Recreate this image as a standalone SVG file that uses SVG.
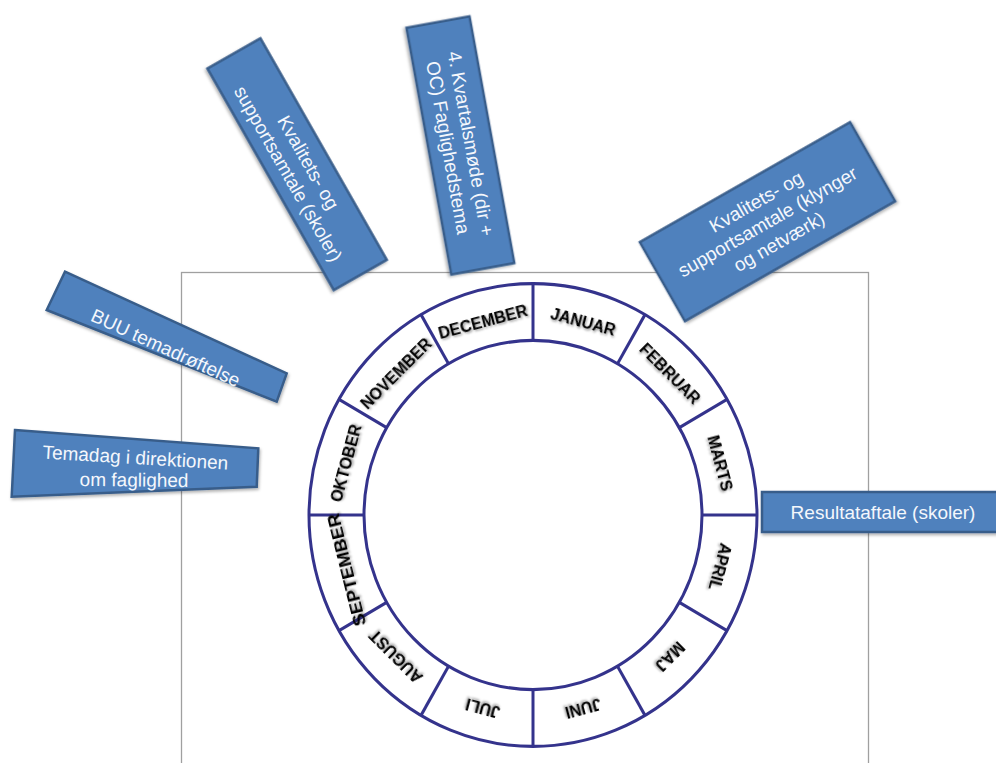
<svg xmlns="http://www.w3.org/2000/svg" width="996" height="763" viewBox="0 0 996 763">
<defs>
<filter id="sh" x="-30%" y="-60%" width="160%" height="220%">
<feDropShadow dx="1.2" dy="1.6" stdDeviation="1.1" flood-color="#000" flood-opacity="0.4"/>
</filter>
<filter id="bsh" x="-10%" y="-10%" width="120%" height="130%">
<feDropShadow dx="1" dy="2" stdDeviation="1.5" flood-color="#000" flood-opacity="0.3"/>
</filter>
</defs>
<style>
.box{fill:#4F81BD;stroke:#385D8A;stroke-width:2.5;filter:url(#bsh);}
.bt{font-family:"Liberation Sans",Arial,sans-serif;font-size:19px;fill:#F4F7FC;text-anchor:middle;}
.m{font-family:"Liberation Sans",Arial,sans-serif;font-weight:bold;font-size:16px;fill:#000;text-anchor:middle;filter:url(#sh);}
.ring{fill:none;stroke:#34338C;stroke-width:3;}
.dv{stroke:#34338C;stroke-width:3;}
</style>
<rect x="181.5" y="272.5" width="687" height="520" fill="none" stroke="#A0A0A0" stroke-width="1.3"/>
<g id="connectors"></g>
<g id="wheel">
<g transform="translate(533 515) scale(1 1.033)">
<circle r="224" class="ring" fill="#fff"/>
<circle r="169" class="ring"/>
<g class="dv">
<line x1="0" y1="-169" x2="0" y2="-224"/>
<line x1="0" y1="-169" x2="0" y2="-224" transform="rotate(30)"/>
<line x1="0" y1="-169" x2="0" y2="-224" transform="rotate(60)"/>
<line x1="0" y1="-169" x2="0" y2="-224" transform="rotate(90)"/>
<line x1="0" y1="-169" x2="0" y2="-224" transform="rotate(120)"/>
<line x1="0" y1="-169" x2="0" y2="-224" transform="rotate(150)"/>
<line x1="0" y1="-169" x2="0" y2="-224" transform="rotate(180)"/>
<line x1="0" y1="-169" x2="0" y2="-224" transform="rotate(210)"/>
<line x1="0" y1="-169" x2="0" y2="-224" transform="rotate(240)"/>
<line x1="0" y1="-169" x2="0" y2="-224" transform="rotate(270)"/>
<line x1="0" y1="-169" x2="0" y2="-224" transform="rotate(300)"/>
<line x1="0" y1="-169" x2="0" y2="-224" transform="rotate(330)"/>
</g>
</g>
<g id="m-jan" transform="translate(583.2 321.4) rotate(15)"><text class="m" y="5.6">JANUAR</text></g>
<g id="m-feb" transform="translate(670.2 373.3) rotate(45)"><text class="m" y="5.6">FEBRUAR</text></g>
<g id="m-mar" transform="translate(720.4 463.1) rotate(75)"><text class="m" y="5.6">MARTS</text></g>
<g id="m-apr" transform="translate(720.4 566.9) rotate(105)"><text class="m" y="5.6">APRIL</text></g>
<g id="m-maj" transform="translate(670.2 656.7) rotate(135)"><text class="m" y="5.6">MAJ</text></g>
<g id="m-jun" transform="translate(583.2 708.6) rotate(165)"><text class="m" y="5.6">JUNI</text></g>
<g id="m-jul" transform="translate(482.8 708.6) rotate(195)"><text class="m" y="5.6">JULI</text></g>
<g id="m-aug" transform="translate(395.8 656.7) rotate(225)"><text class="m" y="5.6">AUGUST</text></g>
<g id="m-sep" transform="translate(346.5 570) rotate(256)"><text class="m" y="5.8" style="font-size:16.5px" textLength="115" lengthAdjust="spacingAndGlyphs" x="0">SEPTEMBER</text></g>
<g id="m-okt" transform="translate(345.6 463.1) rotate(285)"><text class="m" y="5.6">OKTOBER</text></g>
<g id="m-nov" transform="translate(395.8 373.3) rotate(315)"><text class="m" y="5.6">NOVEMBER</text></g>
<g id="m-dec" transform="translate(482.8 321.4) rotate(345)"><text class="m" y="5.6">DECEMBER</text></g>
</g>
<g id="box-temadag">
<polygon class="box" points="15,430 258.3,448.3 256.7,486.7 11.7,496.7"/>
<text class="bt" transform="translate(135 464) rotate(3.4)">Temadag i direktionen</text>
<text class="bt" transform="translate(134 486.5) rotate(0.5)">om faglighed</text>
</g>
<g id="box-buu">
<polygon class="box" points="65,271.7 286.7,373.3 276.7,401.7 46.7,310"/>
<text class="bt" transform="translate(166 347) rotate(24.5)" y="7.5">BUU temadrøftelse</text>
</g>
<g id="box-kvalitet-skoler" transform="translate(297.1 164.2) rotate(60.3)">
<rect class="box" x="-127.5" y="-30.5" width="255" height="61"/>
<text class="bt" x="4" y="-4">Kvalitets- og</text>
<text class="bt" x="4" y="19">supportsamtale (skoler)</text>
</g>
<g id="box-kvartalsmoede" transform="translate(460.4 145.4) rotate(79.7)">
<rect class="box" x="-125.3" y="-32" width="250.7" height="64"/>
<text class="bt" x="0" y="-4">4. Kvartalsmøde (dir +</text>
<text class="bt" x="0" y="19">OC) Faglighedstema</text>
</g>
<g id="box-kvalitet-klynger" transform="translate(767.5 221.7) rotate(-29.7)">
<rect class="box" x="-121" y="-45.5" width="242" height="91"/>
<text class="bt" x="0" y="-16.5">Kvalitets- og</text>
<text class="bt" x="0" y="6.6">supportsamtale (klynger</text>
<text class="bt" x="0" y="29.7">og netværk)</text>
</g>
<g id="box-resultataftale">
<rect class="box" x="762" y="492" width="242" height="40"/>
<text class="bt" x="883" y="518.6">Resultataftale (skoler)</text>
</g>
</svg>
